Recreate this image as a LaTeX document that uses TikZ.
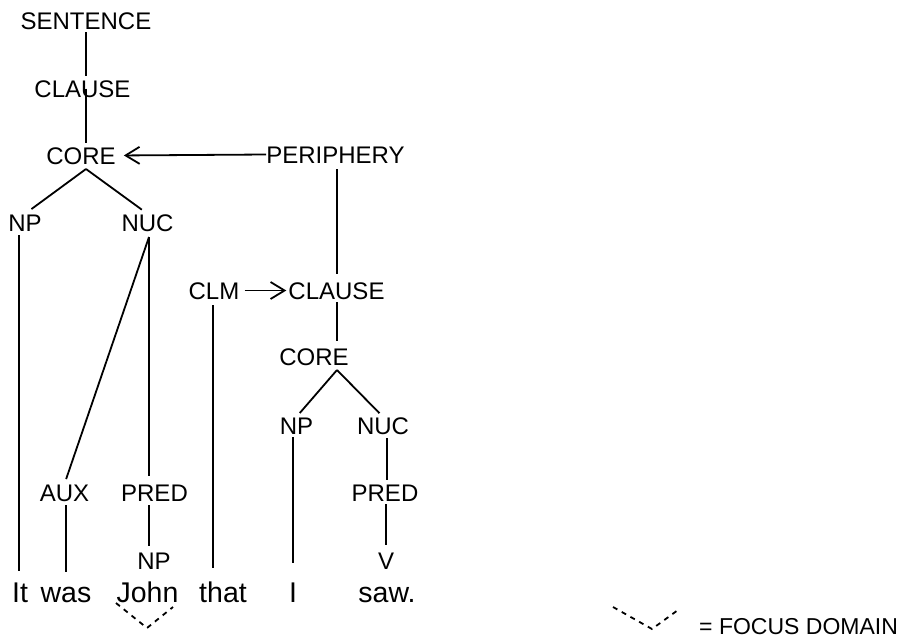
\documentclass[tikz,border=0pt]{standalone}
\usepackage{fontspec}
\setmainfont{Liberation Sans}
\usetikzlibrary{arrows.meta}
\begin{document}
\begin{tikzpicture}[x=1pt,y=-1pt,
  lbl/.style={font=\fontsize{24}{24}\selectfont, inner sep=0pt, text height=17pt, text depth=0pt, anchor=base},
  wrd/.style={font=\fontsize{28.5}{28.5}\selectfont, inner sep=0pt, text height=20.5pt, text depth=0pt, anchor=base},
  edge/.style={line width=1.8pt},
  arr/.style={line width=1.8pt, -{Straight Barb[length=14pt,width=17pt,line width=1.8pt]}},
  focus/.style={line width=1.8pt, dash pattern=on 5pt off 5pt}]
\useasboundingbox (0,0) rectangle (908,638);
% labels
\node[lbl] (sent)  at (86,29)    {SENTENCE};
\node[lbl] (cl1)   at (82.5,97)  {CLAUSE};
\node[lbl] (core1) at (81,164)   {CORE};
\node[lbl] (peri)  at (335.5,163){PERIPHERY};
\node[lbl] (np1)   at (25,231)   {NP};
\node[lbl] (nuc1)  at (147.5,231){NUC};
\node[lbl] (clm)   at (214,299)  {CLM};
\node[lbl] (cl2)   at (336.5,299){CLAUSE};
\node[lbl] (core2) at (314,365)  {CORE};
\node[lbl] (np2)   at (296.5,434){NP};
\node[lbl] (nuc2)  at (383,434)  {NUC};
\node[lbl] (aux)   at (64.5,501) {AUX};
\node[lbl] (pred1) at (154.5,501){PRED};
\node[lbl] (pred2) at (385,501)  {PRED};
\node[lbl] (np3)   at (154,569)  {NP};
\node[lbl] (v)     at (386,569)  {V};
% words
\node[wrd] (it)   at (20,602)   {It};
\node[wrd] (was)  at (66,602)   {was};
\node[wrd] (john) at (147.5,602){John};
\node[wrd] (that) at (223,602)  {that};
\node[wrd] (i)    at (293,602)  {I};
\node[wrd] (saw)  at (387,602)  {saw.};
% branch points
\coordinate (c1b) at (86,169);
\coordinate (n1b) at (149,237);
\coordinate (c2b) at (337,370);
% connectors
\draw[edge, shorten <=3pt, shorten >=4pt] (sent.south -| c1b) -- (cl1.north -| c1b);
\draw[edge, shorten >=4pt] (cl1.center -| c1b) -- (core1.north -| c1b);
\draw[arr, shorten >=8pt] (peri.west) -- (core1.east);
\draw[edge, shorten >=8pt] (c1b) -- (np1.north);
\draw[edge, shorten >=7pt] (c1b) -- (nuc1.north);
\draw[edge, shorten <=6pt, shorten >=8pt] (peri.south -| c2b) -- (cl2.north -| c2b);
\draw[edge, shorten >=5pt] (n1b) -- (aux.north);
\draw[edge, shorten >=8pt] (n1b) -- (pred1.north -| n1b);
\draw[edge, shorten <=4pt, shorten >=10pt] (np1.south -| 19,0) -- (it.north -| 19,0);
\draw[edge, shorten <=4pt, shorten >=9pt] (aux.south -| was.north) -- (was.north);
\draw[edge, shorten <=4pt, shorten >=6pt] (pred1.south -| n1b) -- (np3.north -| n1b);
\draw[edge, shorten <=6pt, shorten >=13pt] (clm.south -| 213,0) -- (that.north -| 213,0);
\draw[arr, shorten <=5pt, shorten >=2pt] (clm.east) -- (cl2.west);
\draw[edge, shorten <=3pt, shorten >=7pt] (cl2.south -| c2b) -- (core2.north -| c2b);
\draw[edge, shorten >=5pt] (c2b) -- (np2.north);
\draw[edge, shorten >=5pt] (c2b) -- (nuc2.north);
\draw[edge, shorten <=3pt, shorten >=18pt] (np2.south -| i.north) -- (i.north);
\draw[edge, shorten <=4pt, shorten >=4pt] (nuc2.south -| 387,0) -- (pred2.north -| 387,0);
\draw[edge, shorten <=3pt, shorten >=7pt] (pred2.south -| v.north) -- (v.north);
% focus domain marks
\draw[focus] (116,603) -- (147,628) -- (173,607);
\draw[focus] (613,607) -- (652,629) -- (678,610);
\node[font=\fontsize{23}{23}\selectfont, inner sep=0pt, anchor=base west] (legend) at (699,634) {= FOCUS DOMAIN};
\end{tikzpicture}
\end{document}
